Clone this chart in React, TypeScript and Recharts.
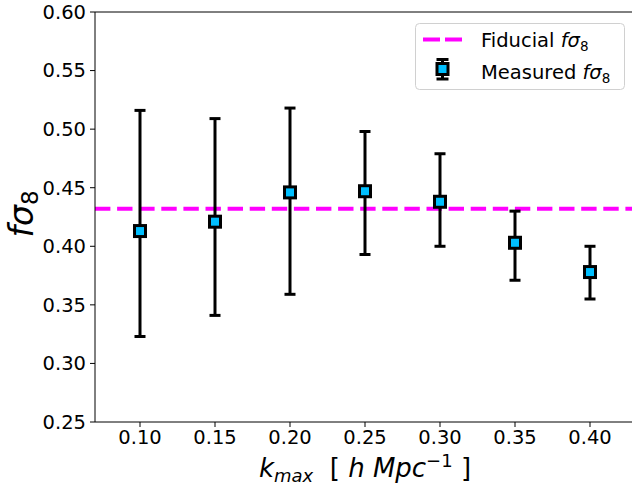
import React from 'react';
import { ScatterChart, Scatter, XAxis, YAxis, ErrorBar, ReferenceLine, Legend } from 'recharts';

const kmax = [0.10, 0.15, 0.20, 0.25, 0.30, 0.35, 0.40];
const fs8 = [0.413, 0.421, 0.446, 0.447, 0.438, 0.403, 0.378];
const fs8Low = [0.323, 0.341, 0.359, 0.393, 0.400, 0.371, 0.355];
const fs8High = [0.516, 0.509, 0.518, 0.498, 0.479, 0.430, 0.400];
const fiducial = 0.432;
const xTicks = [0.10, 0.15, 0.20, 0.25, 0.30, 0.35, 0.40];
const yTicks = [0.25, 0.30, 0.35, 0.40, 0.45, 0.50, 0.55, 0.60];
const xDomain = [0.07, 0.43];
const yDomain = [0.25, 0.60];

const data = kmax.map((k, i) => ({
  k,
  v: fs8[i],
  err: [fs8[i] - fs8Low[i], fs8High[i] - fs8[i]],
}));

const FONT = 'DejaVu Sans';
const MAGENTA = '#FF00FF';
const BLUE = '#00BFFF';

const Square = (props: any) => {
  const { cx, cy } = props;
  if (cx == null || cy == null) return null;
  return <rect x={cx - 5.5} y={cy - 5.5} width={11} height={11} fill={BLUE} stroke="#000" strokeWidth={3} />;
};

const YLabel = () => (
  <text x={33} y={214} transform="rotate(-90 33 214)" textAnchor="middle" fontFamily={FONT} fontSize={33} fill="#000">
    <tspan fontStyle="italic">fσ</tspan>
    <tspan fontSize={23} dy={5}>8</tspan>
  </text>
);

const XLabel = () => (
  <text x={365} y={477} textAnchor="middle" fontFamily={FONT} fontSize={26} fill="#000">
    <tspan fontStyle="italic">k</tspan>
    <tspan fontStyle="italic" fontSize={18} dy={5}>max</tspan>
    <tspan dy={-5}>{'\u00a0\u00a0[\u00a0'}</tspan>
    <tspan fontStyle="italic">h</tspan>
    <tspan>{'\u00a0'}</tspan>
    <tspan fontStyle="italic">Mpc</tspan>
    <tspan fontSize={18} dy={-10}>{'\u22121'}</tspan>
    <tspan dy={10}>{'\u00a0]'}</tspan>
  </text>
);

const LegendBox = () => (
  <svg width={210} height={67} style={{ display: 'block', overflow: 'visible' }}>
    <rect x={0.5} y={0.5} width={209} height={66} rx={4} fill="#fff" fillOpacity={0.8} stroke="#d0d0d0" />
    <line x1={8} x2={47} y1={16.5} y2={16.5} stroke={MAGENTA} strokeWidth={4} strokeDasharray="17 5" />
    <text x={66} y={24} fontFamily={FONT} fontSize={19.5} fill="#000">
      {'Fiducial '}
      <tspan fontStyle="italic">fσ</tspan>
      <tspan fontSize={13.5} dy={4}>8</tspan>
    </text>
    <line x1={27.5} x2={27.5} y1={36.5} y2={56} stroke="#000" strokeWidth={3} />
    <line x1={21.5} x2={33.5} y1={36.5} y2={36.5} stroke="#000" strokeWidth={3} />
    <line x1={21.5} x2={33.5} y1={56} y2={56} stroke="#000" strokeWidth={3} />
    <rect x={22} y={40.5} width={11} height={11} fill={BLUE} stroke="#000" strokeWidth={3} />
    <text x={66} y={56} fontFamily={FONT} fontSize={19.5} fill="#000">
      {'Measured '}
      <tspan fontStyle="italic">fσ</tspan>
      <tspan fontSize={13.5} dy={4}>8</tspan>
    </text>
  </svg>
);

export default function App() {
  return (
    <div style={{ position: 'absolute', left: 0, top: 0, width: 632, height: 487, overflow: 'hidden', background: '#fff' }}>
      <ScatterChart width={640} height={487} margin={{ top: 12, right: 5, bottom: 0, left: 0 }} style={{ fontFamily: FONT }}>
        <XAxis
          type="number"
          dataKey="k"
          domain={xDomain}
          ticks={xTicks}
          allowDataOverflow
          height={65}
          tickFormatter={(v: number) => v.toFixed(2)}
          tick={{ fill: '#000', fontSize: 19.5, fontFamily: FONT }}
          tickSize={5}
          tickMargin={3}
          stroke="#000"
          label={<XLabel />}
        />
        <YAxis
          type="number"
          dataKey="v"
          domain={yDomain}
          ticks={yTicks}
          allowDataOverflow
          width={95}
          tickFormatter={(v: number) => v.toFixed(2)}
          tick={{ fill: '#000', fontSize: 19.5, fontFamily: FONT }}
          tickSize={5}
          tickMargin={4}
          stroke="#000"
          label={<YLabel />}
        />
        <ReferenceLine y={0.6} stroke="#000" strokeWidth={1} />
        <ReferenceLine y={fiducial} stroke={MAGENTA} strokeWidth={4} strokeDasharray="15.4 6.7" />
        <Legend
          layout="vertical"
          align="center"
          verticalAlign="middle"
          content={() => <LegendBox />}
          wrapperStyle={{ left: 415, top: 23, width: 210, height: 67 }}
        />
        <Scatter name="Measured" data={data} shape={<Square />} isAnimationActive={false}>
          <ErrorBar dataKey="err" direction="y" width={5.5} strokeWidth={3} stroke="#000" />
        </Scatter>
      </ScatterChart>
    </div>
  );
}
